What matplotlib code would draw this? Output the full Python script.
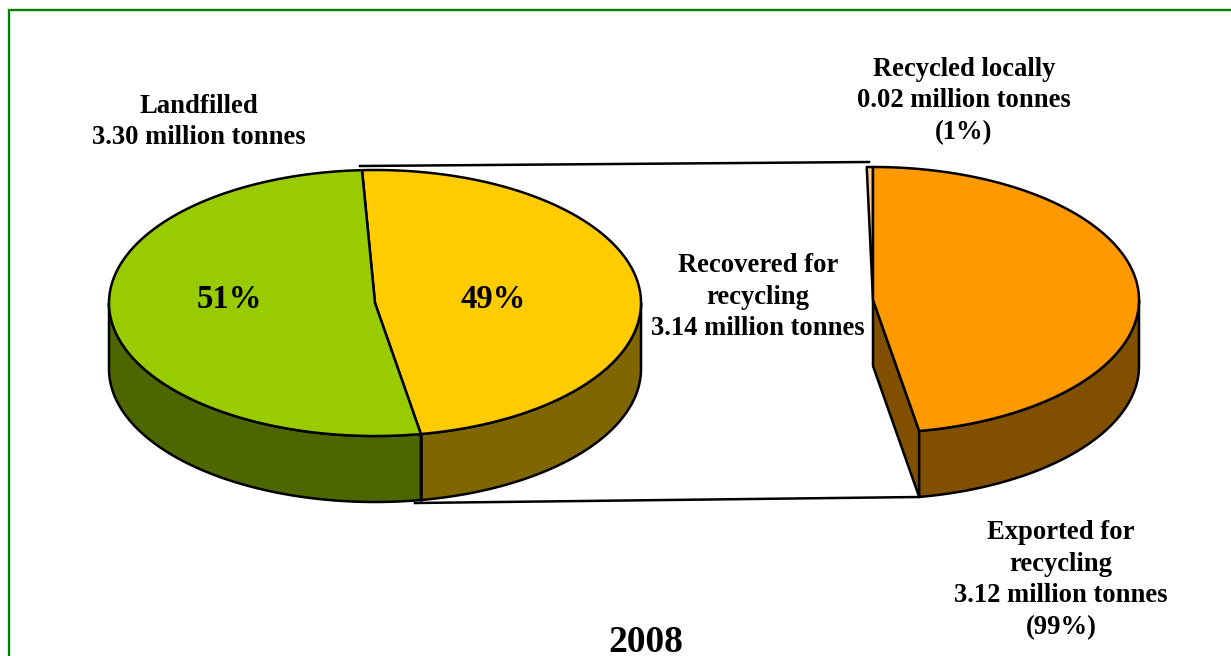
import numpy as np
import matplotlib
matplotlib.use("Agg")
import matplotlib.pyplot as plt
from matplotlib.patches import Polygon

plt.rcParams['font.family'] = ['Liberation Serif', 'DejaVu Serif']

# shares in percent, as printed on the chart
main_labels = ["Landfilled", "Recovered for recycling"]
main_shares = [51, 49]
recovered_labels = ["Recycled locally", "Exported for recycling"]
recovered_shares = [1, 99]
year_label = "2008"

GREEN, GREEN_DARK = '#99cc00', '#4d6600'
YELLOW, YELLOW_DARK = '#ffcc00', '#806600'
ORANGE, ORANGE_DARK = '#ff9900', '#804f00'
SLIVER = '#ffcc99'

RX, RY, DEPTH = 266, 133, 66
LW = 1.8


def rim(cx, cy, a0, a1, dy=0):
    # angles are clockwise from the top of the pie, in degrees
    t = np.radians(np.linspace(a0, a1, 200))
    return np.column_stack([cx + RX * np.sin(t), cy - RY * np.cos(t) + dy])


def poly(ax, pts, color, z):
    ax.add_patch(Polygon(pts, closed=True, facecolor=color, edgecolor='black',
                         linewidth=LW, joinstyle='round', zorder=z))


def slice3d(ax, cx, cy, a0, a1, top, side, z):
    # outer wall only where the rim faces the viewer (90..270 deg)
    lo, hi = max(a0, 90), min(a1, 270)
    if lo < hi:
        edge = rim(cx, cy, lo, hi)
        poly(ax, np.vstack([edge, rim(cx, cy, hi, lo, DEPTH)]), side, z)
    poly(ax, np.vstack([[cx, cy], rim(cx, cy, a0, a1)]), top, z + 1)


fig = plt.figure(figsize=(12.31, 6.56), dpi=100)
ax = fig.add_axes([0, 0, 1, 1])
ax.set_xlim(0, 1231)
ax.set_ylim(656, 0)
ax.axis('off')

# page frame, open at right and bottom
ax.plot([9, 9, 1231], [656, 10, 10], color='#008000', lw=1.7, solid_joinstyle='miter')

# left pie
lx, ly = 375, 303
start = -2.8
split = start + 360 * main_shares[1] / 100 * 0.98
slice3d(ax, lx, ly, start, split, YELLOW, YELLOW_DARK, 2)
slice3d(ax, lx, ly, split, 360 + start, GREEN, GREEN_DARK, 4)
bx, by = rim(lx, ly, split, split)[0]
ax.plot([bx, bx], [by, by + DEPTH], color='black', lw=LW, zorder=6)

# right pie, only the recovered part
rx, ry = 873, 300
end = 170
sliver = 1.35 * recovered_shares[0]
ex, ey = rim(rx, ry, end, end)[0]
poly(ax, [[rx, ry], [rx, ry + DEPTH], [ex, ey + DEPTH], [ex, ey]], ORANGE_DARK, 2)
poly(ax, np.vstack([[rx, ry], rim(rx, ry, -sliver, 0)]), SLIVER, 3)
slice3d(ax, rx, ry, 0, end, ORANGE, ORANGE_DARK, 3)

# connector lines between the pies
ax.plot([360, 869], [166, 162], color='black', lw=LW, zorder=1)
ax.plot([415, 919], [503, 497], color='black', lw=LW, zorder=1)

# text
LABEL = dict(ha='center', va='center', fontweight='bold', color='black',
             fontsize=19.2, linespacing=1.36, zorder=10)
ax.text(199, 122, f"{main_labels[0]}\n3.30 million tonnes", **LABEL)
ax.text(758, 297, "Recovered for\nrecycling\n3.14 million tonnes", **LABEL)
ax.text(964, 101, f"{recovered_labels[0]}\n0.02 million tonnes\n({recovered_shares[0]}%)", **LABEL)
ax.text(1061, 580, f"Exported for\nrecycling\n3.12 million tonnes\n({recovered_shares[1]}%)", **LABEL)

BIG = dict(ha='center', va='center', fontweight='bold', color='black', fontsize=23.5, zorder=10)
ax.text(229, 299, f"{main_shares[0]}%", **BIG)
ax.text(493, 299, f"{main_shares[1]}%", **BIG)
ax.text(646, 652, year_label, ha='center', va='baseline', fontweight='bold', fontsize=27, zorder=10)

fig.savefig("out.png", dpi=100, facecolor='white')
